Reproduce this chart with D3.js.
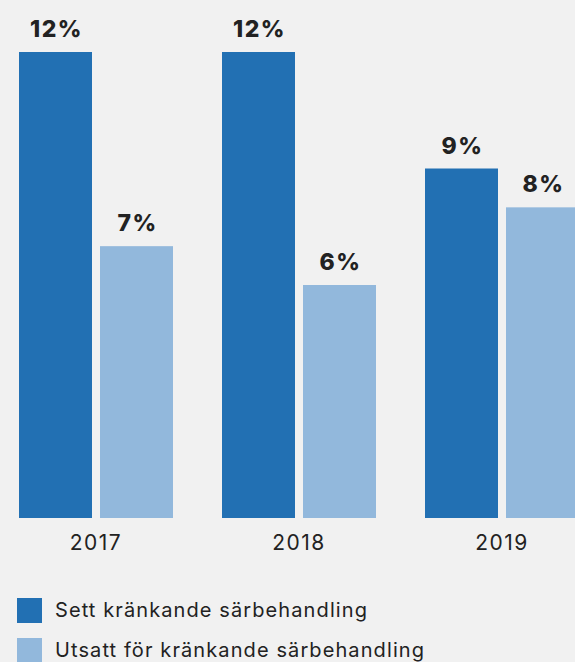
<!DOCTYPE html>
<html>
<head>
<meta charset="utf-8">
<script src="https://cdn.jsdelivr.net/npm/d3@7"></script>
<style>
  html, body { margin: 0; padding: 0; background: #f1f1f1; overflow: hidden; }
  svg { display: block; font-family: Inter, "Noto Sans", sans-serif; }
</style>
</head>
<body>
<div id="chart"></div>
<script>
// data
const years = ["2017", "2018", "2019"];
const seriesNames = ["Sett kränkande särbehandling", "Utsatt för kränkande särbehandling"];
const settValues = [12, 12, 9];
const utsattValues = [7, 6, 8];
const colors = ["#2270b3", "#92b8dc"];

const width = 575, height = 662;
const margin = { top: 52, left: 19 };
const baseline = 518;

const svg = d3.select("#chart").append("svg")
  .attr("width", width)
  .attr("height", height);

const rows = years.map((y, i) => ({ year: y, values: [settValues[i], utsattValues[i]] }));

// group scale - last bar runs off the right edge like in the original
const x0 = d3.scaleBand()
  .domain(years)
  .range([margin.left, margin.left + 2 * 203 + 154])
  .paddingInner(49 / 203)
  .paddingOuter(0);

const x1 = d3.scaleBand()
  .domain(seriesNames)
  .range([0, x0.bandwidth()])
  .paddingInner(8 / 81);

const y = d3.scaleLinear()
  .domain([0, 12])
  .range([baseline, margin.top]);

const groups = svg.selectAll("g.year")
  .data(rows)
  .enter().append("g")
  .attr("class", "year")
  .attr("transform", d => "translate(" + x0(d.year) + ",0)");

const cells = groups.selectAll("g.bar")
  .data(d => d.values.map((v, i) => ({ name: seriesNames[i], value: v, i: i })))
  .enter().append("g");

cells.append("rect")
  .attr("x", d => x1(d.name))
  .attr("y", d => y(d.value))
  .attr("width", x1.bandwidth())
  .attr("height", d => baseline - y(d.value))
  .attr("fill", d => colors[d.i]);

cells.append("text")
  .attr("x", d => x1(d.name) + x1.bandwidth() / 2 + 1)
  .attr("y", d => y(d.value) - 15)
  .attr("text-anchor", "middle")
  .attr("font-size", 23)
  .attr("font-weight", 800)
  .attr("letter-spacing", 1.5)
  .attr("fill", "#222")
  .text(d => d.value + "%");

// x axis labels, no line
const xAxis = d3.axisBottom(x0).tickSize(0).tickPadding(0);
const ax = svg.append("g")
  .attr("transform", "translate(0," + (baseline + 17) + ")")
  .call(xAxis);
ax.select(".domain").remove();
ax.selectAll("text")
  .attr("font-family", "Inter, sans-serif")
  .attr("font-size", 21)
  .attr("letter-spacing", 1.5)
  .attr("dx", 0)
  .attr("fill", "#222");

// legend
const legend = svg.selectAll("g.legend")
  .data(seriesNames)
  .enter().append("g")
  .attr("transform", (d, i) => "translate(17," + (598 + i * 40) + ")");

legend.append("rect")
  .attr("width", 25)
  .attr("height", 25)
  .attr("fill", (d, i) => colors[i]);

legend.append("text")
  .attr("x", 38)
  .attr("y", 19)
  .attr("font-size", 20)
  .attr("letter-spacing", 1.1)
  .attr("fill", "#222")
  .text(d => d);
</script>
</body>
</html>
